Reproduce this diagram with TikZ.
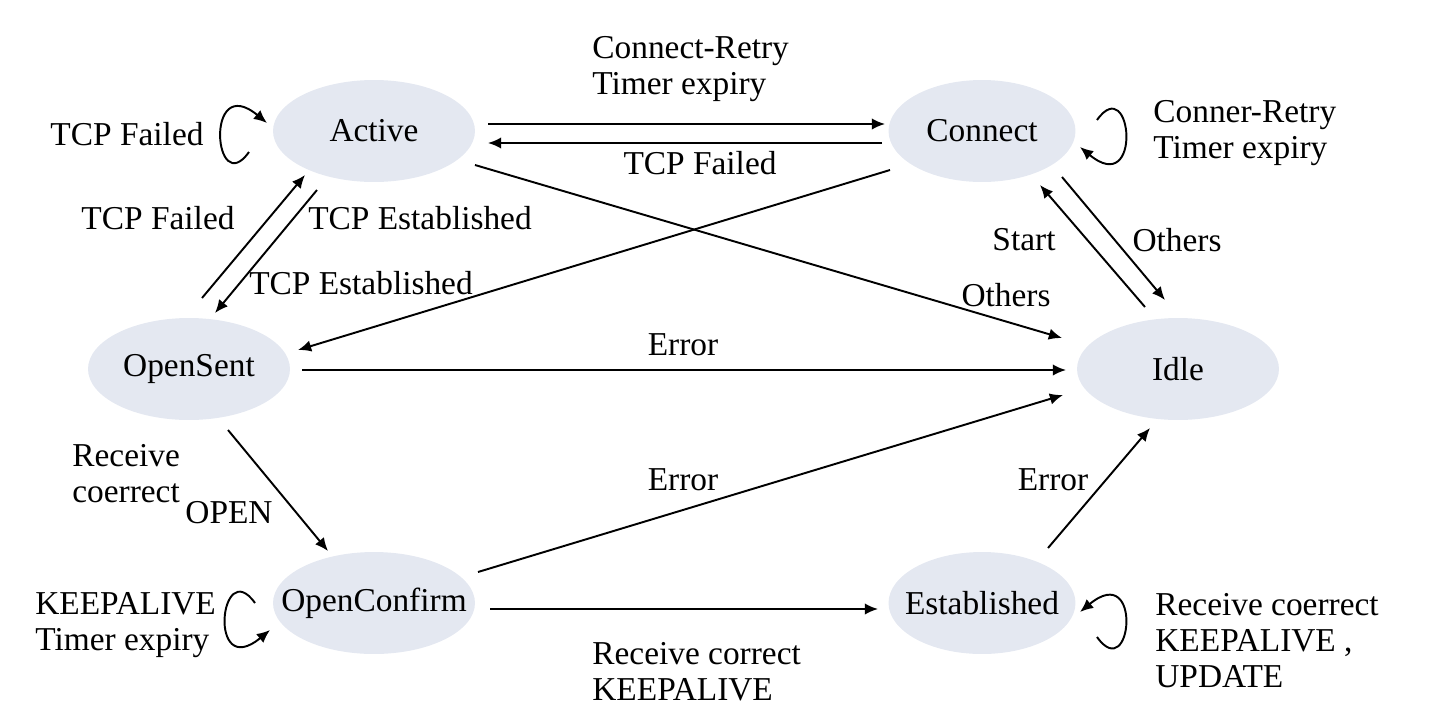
\documentclass[tikz,border=0pt]{standalone}
\usepackage{fontspec}
\setmainfont{Liberation Serif}
\usetikzlibrary{shapes.geometric,arrows.meta,calc}
\definecolor{statefill}{RGB}{228,232,241}
\begin{document}
\begin{tikzpicture}[x=0.02cm,y=-0.02cm,
  font=\fontsize{19}{20.5}\selectfont,
  state/.style={ellipse,fill=statefill,draw=none,minimum width=4.04cm,minimum height=2.04cm,inner sep=0pt,
    label={[inner sep=0pt]center:#1}},
  narrow/.style={minimum width=3.74cm},
  lbl/.style={inner sep=0pt},
  lbll/.style={inner sep=0pt,anchor=west,align=left},
  arr/.style={line width=1.1pt,-{Latex[length=7.5pt,width=6.5pt]}}]
\useasboundingbox (0,0) rectangle (1430,724);
\node[state=Active] (active) at (374,131) {};
\node[state=Connect,narrow] (connect) at (982,131) {};
\node[state=OpenSent] (opensent) at (189,369) {};
\node[state=Idle] (idle) at (1178,369) {};
\node[state=OpenConfirm] (openconfirm) at (374,603) {};
\node[state=Established,narrow] (established) at (982,603) {};

% straight transitions
\draw[arr] ($(active)+(114,-7)$) -- ($(connect)+(-97,-7)$);
\draw[arr] ($(connect)+(-100,12)$) -- ($(active)+(114,12)$);
\draw[arr] ($(opensent)+(13,-71)$) -- ($(active)+(-69,44)$);
\draw[arr] ($(active)+(-57,59)$) -- ($(opensent)+(26,-56)$);
\draw[arr] ($(connect)+(-92,39)$) -- ($(opensent)+(109,-19)$);
\draw[arr] ($(active)+(101,34)$) -- ($(idle)+(-116,-31)$);
\draw[arr] ($(connect)+(80,46)$) -- ($(idle)+(-13,-69)$);
\draw[arr] ($(idle)+(-33,-62)$) -- ($(connect)+(58,54)$);
\draw[arr] ($(opensent)+(113,1)$) -- ($(idle)+(-112,1)$);
\draw[arr] ($(opensent)+(39,61)$) -- ($(openconfirm)+(-46,-52)$);
\draw[arr] ($(openconfirm)+(104,-31)$) -- ($(idle)+(-115,26)$);
\draw[arr] ($(established)+(66,-55)$) -- ($(idle)+(-28,59)$);
\draw[arr] ($(openconfirm)+(116,6)$) -- ($(established)+(-104,6)$);

% self loops
\draw[arr] ($(active)+(-125,21)$) .. controls ($(active)+(-160,70)$) and ($(active)+(-170,-60)$) .. ($(active)+(-107,-8)$);
\draw[arr] ($(connect)+(115,-11)$) .. controls ($(connect)+(150,-60)$) and ($(connect)+(161,68)$) .. ($(connect)+(98,16)$);
\draw[arr] ($(openconfirm)+(-119,0)$) .. controls ($(openconfirm)+(-154,-49)$) and ($(openconfirm)+(-167,79)$) .. ($(openconfirm)+(-104,27)$);
\draw[arr] ($(established)+(115,34)$) .. controls ($(established)+(150,83)$) and ($(established)+(161,-43)$) .. ($(established)+(98,9)$);

% labels
\node[lbll] (l1) at (592,69) {Connect-Retry\\Timer expiry};
\node[lbl] (l2) at (700,163) {TCP Failed};
\node[lbl] (l3) at (127,134) {TCP Failed};
\node[lbll] (l4) at (1153,133) {Conner-Retry\\Timer expiry};
\node[lbl] (l5) at (158,218) {TCP Failed};
\node[lbl] (l6) at (420,218) {TCP Established};
\node[lbl] (l7) at (361,283) {TCP Established};
\node[lbl] (l8) at (1024,240) {Start};
\node[lbl] (l9) at (1177,240) {Others};
\node[lbl] (l10) at (1006,295) {Others};
\node[lbl] (l11) at (683,345) {Error};
\node[lbll] (l12) at (72,474) {Receive\\coerrect};
\node[lbl] (l13) at (229,513) {OPEN};
\node[lbl] (l14) at (683,480) {Error};
\node[lbl] (l15) at (1053,480) {Error};
\node[lbll] (l16) at (35,625) {KEEPALIVE\\Timer expiry};
\node[lbll] (l17) at (592,672) {Receive correct\\KEEPALIVE};
\node[lbll] (l18) at (1155,641) {Receive coerrect\\KEEPALIVE ,\\UPDATE};
\end{tikzpicture}
\end{document}
